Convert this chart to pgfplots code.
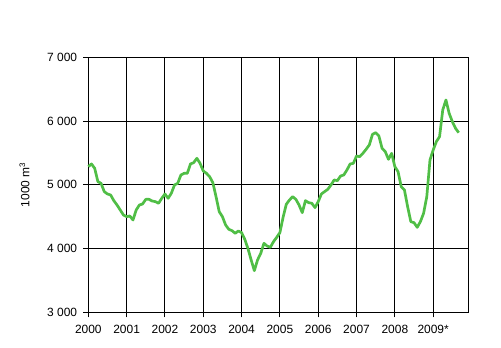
\documentclass[border=0pt]{standalone}
\usepackage{pgfplots}
\pgfplotsset{compat=1.18}
\usepackage{fontspec}
\setmainfont{Liberation Sans}
\definecolor{linegreen}{RGB}{80,190,70}
\begin{document}
\begin{tikzpicture}
\begin{axis}[
  at={(0,0)}, anchor=origin,
  scale only axis,
  width=380bp, height=255bp,
  xmin=0, xmax=119, ymin=3000, ymax=7000,
  xtick={0,12,...,108},
  xticklabels={2000,2001,2002,2003,2004,2005,2006,2007,2008,2009*},
  ytick={3000,4000,5000,6000,7000},
  /pgf/number format/assume math mode=true,
  /pgf/number format/1000 sep={\ },
  grid=major,
  major grid style={black, line width=0.9bp},
  axis line style={black, line width=0.9bp},
  tick style={black, line width=0.9bp},
  tick align=outside,
  major tick length=5bp,
  xtick pos=bottom, ytick pos=left,
  xticklabel style={font=\fontsize{12}{14}\selectfont, anchor=north, inner sep=0pt, yshift=-8bp},
  yticklabel style={font=\fontsize{12}{14}\selectfont, anchor=east, inner sep=0pt, xshift=-6bp},
  ylabel={1000 m\textsuperscript{3}},
  ylabel style={font=\fontsize{12}{14}\selectfont, at={(axis description cs:-0.168,0.5)}, anchor=center, rotate=0},
  clip=false,
]
\addplot[linegreen, line width=2.7bp, line join=round] table {
m v
0 5285
1 5327
2 5259
3 5050
4 5023
5 4893
6 4856
7 4840
8 4751
9 4683
10 4605
11 4527
12 4500
13 4511
14 4448
15 4605
16 4683
17 4699
18 4772
19 4772
20 4746
21 4736
22 4710
23 4788
24 4856
25 4788
26 4867
27 4997
28 5023
29 5154
30 5180
31 5180
32 5327
33 5348
34 5416
35 5337
36 5217
37 5180
38 5128
39 5034
40 4814
41 4579
42 4500
43 4370
44 4302
45 4281
46 4239
47 4276
48 4250
49 4145
50 4000
51 3821
52 3653
53 3821
54 3925
55 4082
56 4040
57 4019
58 4108
59 4176
60 4250
61 4490
62 4694
63 4762
64 4814
65 4772
66 4683
67 4563
68 4751
69 4720
70 4710
71 4642
72 4736
73 4856
74 4893
75 4929
76 4997
77 5076
78 5065
79 5138
80 5154
81 5233
82 5327
83 5337
84 5452
85 5442
86 5494
87 5557
88 5625
89 5792
90 5818
91 5766
92 5572
93 5520
94 5400
95 5494
96 5285
97 5206
98 4971
99 4919
100 4657
101 4422
102 4406
103 4333
104 4422
105 4553
106 4814
107 5389
108 5546
109 5677
110 5755
111 6174
112 6331
113 6122
114 5991
115 5886
116 5818
};
\end{axis}
\path (-88.3bp,-35.7bp) rectangle (412.7bp,312.3bp);
\end{tikzpicture}
\end{document}
